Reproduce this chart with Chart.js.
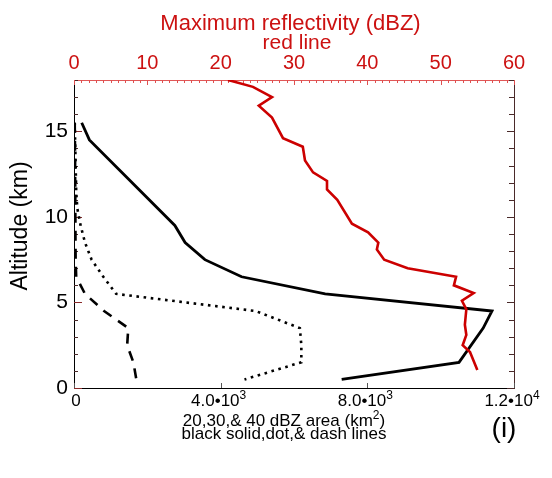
<!DOCTYPE html>
<html>
<head>
<meta charset="utf-8">
<script src="https://cdn.jsdelivr.net/npm/chart.js@4.4.1/dist/chart.umd.min.js"></script>
<style>
html,body{margin:0;padding:0;background:#fff;}
canvas{display:block;}
</style>
</head>
<body>
<canvas id="c" width="552" height="478"></canvas>
<script>
// ---- data ----
// red line: maximum reflectivity (dBZ) vs altitude (km)
const redAltitude = [18, 17.6, 17.0, 16.5, 15.8, 14.6, 14.1, 13.3, 12.6, 12.1, 11.6, 11.0, 9.6, 9.1, 8.5, 8.1, 7.5, 7.0, 6.5, 6.0, 5.55, 5.1, 4.6, 3.7, 3.1, 2.5, 2.1, 1.05];
const maxReflectivity = [21.0, 24.4, 27.0, 25.2, 27.0, 28.5, 31.2, 31.5, 32.6, 34.5, 34.5, 35.9, 37.9, 40.1, 41.5, 41.3, 42.3, 45.5, 52.1, 51.8, 54.5, 52.9, 53.5, 53.3, 53.5, 53.0, 54.0, 55.0];

// black solid: 20 dBZ area (km^2)
const solidAltitude = [15.5, 14.5, 9.5, 8.5, 7.5, 6.5, 5.5, 4.5, 3.5, 1.5, 0.5];
const area20 = [210, 420, 2750, 3030, 3570, 4570, 6850, 11400, 11160, 10500, 7300];

// black dotted: 30 dBZ area (km^2)
const dotAltitude = [15.5, 14.5, 13.5, 12.5, 11.5, 10.5, 9.5, 8.5, 7.5, 6.5, 5.5, 4.5, 3.5, 2.5, 1.5, 0.5];
const area30 = [20, 30, 40, 50, 60, 90, 180, 300, 480, 800, 1150, 4950, 6160, 6200, 6200, 4650];

// black dashed: 40 dBZ area (km^2)
const dashAltitude = [15.5, 14.5, 13.5, 12.5, 11.5, 10.5, 9.5, 8.5, 7.5, 6.5, 5.5, 4.5, 3.5, 2.5, 1.5, 0.5];
const area40 = [20, 25, 30, 30, 35, 35, 40, 40, 45, 60, 300, 820, 1480, 1450, 1620, 1700];

// tick labels
const bottomTickValues = [0, 4000, 8000, 12000];
const bottomTickMantissa = ['0', '4.0\u202210', '8.0\u202210', '1.2\u202210'];
const bottomTickExponent = ['', '3', '3', '4'];
const topTickValues = [0, 10, 20, 30, 40, 50, 60];
const topTickLabels = ['0', '10', '20', '30', '40', '50', '60'];
const leftTickValues = [0, 5, 10, 15];
const leftTickLabels = ['0', '5', '10', '15'];

// texts
const topTitle = 'Maximum reflectivity (dBZ)';
const topSubtitle = 'red line';
const leftTitle = 'Altitude (km)';
const bottomTitle1Parts = ['20,30,& 40 dBZ area (km', '2', ')'];
const bottomTitle2 = 'black solid,dot,& dash lines';
const panelLabel = '(i)';

const FONT = "'Liberation Sans', Arial, Helvetica, sans-serif";
const RED = '#cc1111';

function pts(xs, ys) { return xs.map((x, i) => ({x: x, y: ys[i]})); }

// draws base text + superscript + optional tail, centred on cx
function supText(ctx, base, sup, tail, cx, cy, size, supSize, rise, shift) {
  ctx.font = size + 'px ' + FONT;
  const wb = ctx.measureText(base).width;
  const wt = tail ? ctx.measureText(tail).width : 0;
  ctx.font = supSize + 'px ' + FONT;
  const ws = sup ? ctx.measureText(sup).width : 0;
  let x = cx - (wb + ws + wt) / 2 + (shift || 0);
  ctx.textAlign = 'left';
  ctx.font = size + 'px ' + FONT;
  ctx.fillText(base, x, cy);
  x += wb;
  if (sup) {
    ctx.font = supSize + 'px ' + FONT;
    ctx.fillText(sup, x, cy - rise);
    x += ws;
  }
  if (tail) {
    ctx.font = size + 'px ' + FONT;
    ctx.fillText(tail, x, cy);
  }
}

const decor = {
  id: 'decor',
  beforeDatasetsDraw(chart) {
    const ctx = chart.ctx;
    const {left, right, top, bottom} = chart.chartArea;
    const sy = chart.scales.y, sx = chart.scales.x, sx2 = chart.scales.x2;
    ctx.save();
    ctx.lineWidth = 1;
    function ln(x1, y1, x2, y2) { ctx.beginPath(); ctx.moveTo(x1, y1); ctx.lineTo(x2, y2); ctx.stroke(); }
    for (let v = 0; v <= 18; v++) {
      const py = Math.round(sy.getPixelForValue(v)) + 0.5;
      const major = v % 5 === 0;
      ctx.strokeStyle = major ? '#8a2a2a' : '#4a2a2a';
      ln(left, py, left + (major ? 8 : 4), py);
      ctx.strokeStyle = '#4a2a2a';
      ln(right, py, right - (major ? 7 : 5), py);
    }
    ctx.strokeStyle = '#e05050';
    for (let v = 0; v <= 60; v++) {
      const px = Math.round(sx2.getPixelForValue(v)) + 0.5;
      const major = v % 10 === 0;
      ln(px, top, px, top + (major ? 5 : 3));
    }
    ctx.strokeStyle = '#555';
    bottomTickValues.forEach(v => {
      const px = Math.round(sx.getPixelForValue(v)) + 0.5;
      ln(px, bottom, px, bottom - 5);
    });
    ctx.restore();
  },
  afterDraw(chart) {
    const ctx = chart.ctx;
    const sx = chart.scales.x;
    const {bottom} = chart.chartArea;
    ctx.save();
    ctx.textBaseline = 'middle';
    ctx.fillStyle = '#000';
    // bottom tick labels with superscript exponents
    bottomTickValues.forEach((v, i) => {
      const px = sx.getPixelForValue(v);
      supText(ctx, bottomTickMantissa[i], bottomTickExponent[i], '', px, bottom + 13.5, 17, 12, 6, i === 0 ? 2 : -2);
    });
    ctx.textAlign = 'center';
    ctx.fillStyle = RED;
    ctx.font = '22px ' + FONT;
    ctx.fillText(topTitle, 290.5, 23.5);
    ctx.font = '21px ' + FONT;
    ctx.fillText(topSubtitle, 297, 43.5);
    ctx.fillStyle = '#000';
    supText(ctx, bottomTitle1Parts[0], bottomTitle1Parts[1], bottomTitle1Parts[2], 284, 421, 17, 12, 5, 0);
    ctx.textAlign = 'center';
    ctx.font = '17px ' + FONT;
    ctx.fillText(bottomTitle2, 284, 434.5);
    ctx.font = '28px ' + FONT;
    ctx.fillText(panelLabel, 504, 429);
    ctx.translate(21, 226);
    ctx.rotate(-Math.PI / 2);
    ctx.font = '23px ' + FONT;
    ctx.fillText(leftTitle, 0, 0);
    ctx.restore();
  }
};

Chart.defaults.font.family = FONT;

new Chart(document.getElementById('c'), {
  type: 'line',
  data: {
    datasets: [
      {
        label: 'Max reflectivity', data: pts(maxReflectivity, redAltitude),
        xAxisID: 'x2', yAxisID: 'y',
        borderColor: '#cc0000', borderWidth: 2.6, pointRadius: 0, tension: 0, fill: false
      },
      {
        label: '20 dBZ area', data: pts(area20, solidAltitude),
        xAxisID: 'x', yAxisID: 'y',
        borderColor: '#000', borderWidth: 2.8, pointRadius: 0, tension: 0, fill: false
      },
      {
        label: '30 dBZ area', data: pts(area30, dotAltitude),
        xAxisID: 'x', yAxisID: 'y',
        borderColor: '#000', borderWidth: 2.6, borderDash: [2.6, 4.6], pointRadius: 0, tension: 0, fill: false
      },
      {
        label: '40 dBZ area', data: pts(area40, dashAltitude),
        xAxisID: 'x', yAxisID: 'y',
        borderColor: '#000', borderWidth: 2.6, borderDash: [10, 8], pointRadius: 0, tension: 0, fill: false
      }
    ]
  },
  options: {
    responsive: false,
    animation: false,
    layout: {padding: 0},
    plugins: {legend: {display: false}, tooltip: {enabled: false}},
    scales: {
      x: {
        type: 'linear', position: 'bottom', min: 0, max: 12000,
        afterFit(s) { s.height = 90; },
        afterBuildTicks(s) { s.ticks = bottomTickValues.map(v => ({value: v})); },
        ticks: {display: false},
        grid: {display: false, drawTicks: false},
        border: {display: true, color: '#000', width: 1}
      },
      x2: {
        type: 'linear', position: 'top', min: 0, max: 60,
        afterFit(s) { s.height = 80; },
        afterBuildTicks(s) { s.ticks = topTickValues.map(v => ({value: v})); },
        ticks: {
          callback: (v) => topTickLabels[topTickValues.indexOf(v)],
          color: RED, font: {size: 20, lineHeight: 1.0}, padding: 6.5,
          maxRotation: 0, minRotation: 0, autoSkip: false
        },
        grid: {display: false, drawTicks: false},
        border: {display: true, color: '#e05858', width: 1}
      },
      y: {
        type: 'linear', position: 'left', min: 0, max: 18,
        afterFit(s) { s.width = 74; },
        afterBuildTicks(s) { s.ticks = leftTickValues.map(v => ({value: v})); },
        ticks: {
          callback: (v) => leftTickLabels[leftTickValues.indexOf(v)],
          color: '#000', font: {size: 21}, padding: 6, autoSkip: false
        },
        grid: {display: false, drawTicks: false},
        border: {display: true, color: '#000', width: 1}
      },
      y2: {
        type: 'linear', position: 'right', min: 0, max: 18,
        afterFit(s) { s.width = 38; },
        ticks: {display: false},
        grid: {display: false, drawTicks: false},
        border: {display: true, color: '#4a2a2a', width: 1}
      }
    }
  },
  plugins: [decor]
});
</script>
</body>
</html>
